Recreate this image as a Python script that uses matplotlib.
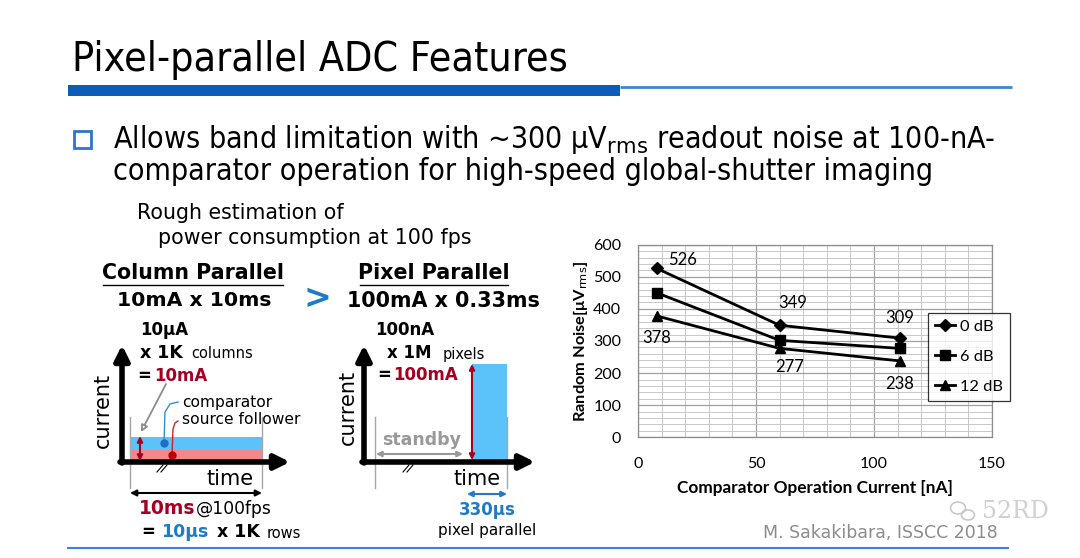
import matplotlib
matplotlib.use("Agg")
import matplotlib.pyplot as plt
from matplotlib.patches import Rectangle, Ellipse
from matplotlib.ticker import MultipleLocator

# chart data
current_na = [8, 60, 111]
noise_0db = [526, 349, 309]
noise_6db = [450, 302, 277]
noise_12db = [378, 277, 238]
series_labels = ['0 dB', '6 dB', '12 dB']
series_markers = ['D', 's', '^']

DARKRED = '#A50021'
BLUE = '#1F7BC8'
LBLUE = '#5CC3FA'
PINK = '#F4878A'
GRAY = '#A6A6A6'

fig = plt.figure(figsize=(10.8, 5.58), dpi=100)

# overlay in pixel coords for the slide decoration
ov = fig.add_axes([0, 0, 1, 1], zorder=0)
ov.set_xlim(0, 1080)
ov.set_ylim(558, 0)
ov.axis('off')

ov.text(72, 60, 'Pixel-parallel ADC Features', fontsize=29.4, va='center', ha='left',
        family='DejaVu Sans', fontstretch='condensed')
ov.add_patch(Rectangle((68, 85), 552, 11, color='#0B5DB8', lw=0))
ov.plot([620, 1012], [86.5, 86.5], color='#3A86D0', lw=2, solid_capstyle='butt')

ov.add_patch(Rectangle((74, 131), 17, 17, fill=False, ec='#2E75C8', lw=2))
ov.text(113, 140, 'Allows band limitation with ~300 µV$_{\\rm rms}$ readout noise at 100-nA-',
        fontsize=21.7, va='center', ha='left', fontstretch='condensed')
ov.text(113, 172, 'comparator operation for high-speed global-shutter imaging',
        fontsize=21.7, va='center', ha='left', fontstretch='condensed')

ov.text(137, 213, 'Rough estimation of', fontsize=14.8, va='center')
ov.text(158, 238, 'power consumption at 100 fps', fontsize=14.8, va='center')

# column parallel side
ov.text(193, 273, 'Column Parallel', fontsize=14.8, weight='bold', ha='center', va='center')
ov.plot([103, 283], [285, 285], color='k', lw=1)
ov.text(194, 301, '10mA x 10ms', fontsize=14.7, weight='bold', ha='center', va='center')
ov.text(317, 299, '>', fontsize=24, weight='bold', color=BLUE, ha='center', va='center')

ov.text(140, 330, '10μA', fontsize=12, weight='bold', va='center')
ov.text(140, 353, 'x 1K', fontsize=12.5, weight='bold', va='center')
ov.text(191, 354, 'columns', fontsize=10.5, va='center')
ov.text(137, 376, '=', fontsize=12, weight='bold', va='center')
ov.text(154, 376, '10mA', fontsize=12, weight='bold', color=DARKRED, va='center')

ov.add_patch(Rectangle((130, 437), 132, 13, color=LBLUE, lw=0))
ov.add_patch(Rectangle((130, 450), 132, 11, color=PINK, lw=0))
for x in (130, 262):
    ov.plot([x, x], [417, 488], color=GRAY, lw=1)
ov.annotate('', xy=(122, 345), xytext=(122, 463),
            arrowprops=dict(arrowstyle='-|>', lw=4, color='k', mutation_scale=22, shrinkA=0, shrinkB=0))
ov.annotate('', xy=(290, 462), xytext=(120, 462),
            arrowprops=dict(arrowstyle='-|>', lw=4, color='k', mutation_scale=22, shrinkA=0, shrinkB=0))
ov.annotate('', xy=(140, 436), xytext=(140, 461),
            arrowprops=dict(arrowstyle='<|-|>', lw=1.5, color=DARKRED, mutation_scale=8, shrinkA=0, shrinkB=0))
ov.annotate('', xy=(141, 432), xytext=(166, 384),
            arrowprops=dict(arrowstyle='-|>', lw=1.3, color='#8C8C8C', mutation_scale=10,
                            fc='white', shrinkA=0, shrinkB=0))
ov.plot([155, 165], [472, 464], color='white', lw=5)
ov.plot([157, 163], [472, 465], color='k', lw=0.8)
ov.plot([161, 167], [472, 465], color='k', lw=0.8)
ov.plot([164, 165, 170, 178], [443, 412, 404, 402], color='#2F8FD8', lw=1)
ov.plot(164, 443, 'o', color='#1F6FC0', ms=5)
ov.plot([172, 173, 175, 178], [455, 429, 423, 421], color='#D02020', lw=1)
ov.plot(172, 455, 'o', color='#C00000', ms=5)
ov.text(182, 402, 'comparator', fontsize=11.2, va='center')
ov.text(182, 420, 'source follower', fontsize=11.2, va='center')
ov.text(103, 410, 'current', fontsize=15, rotation=90, ha='center', va='center')
ov.text(230, 479, 'time', fontsize=15, ha='center', va='center')
ov.annotate('', xy=(130, 493), xytext=(262, 493),
            arrowprops=dict(arrowstyle='<|-|>', lw=1.5, color='k', mutation_scale=9, shrinkA=0, shrinkB=0))
ov.text(139, 509, '10ms', fontsize=13.5, weight='bold', color=DARKRED, va='center')
ov.text(196, 509, '@100fps', fontsize=12.3, va='center')
ov.text(141, 532, '=', fontsize=12, weight='bold', va='center')
ov.text(161, 532, '10μs', fontsize=12.5, weight='bold', color=BLUE, va='center')
ov.text(217, 532, 'x 1K', fontsize=12.5, weight='bold', va='center')
ov.text(267, 533, 'rows', fontsize=10.5, va='center')

# pixel parallel side
ov.text(434, 273, 'Pixel Parallel', fontsize=14.8, weight='bold', ha='center', va='center')
ov.plot([360, 508], [285, 285], color='k', lw=1)
ov.text(443, 301, '100mA x 0.33ms', fontsize=14.9, weight='bold', ha='center', va='center')
ov.text(375, 330, '100nA', fontsize=12, weight='bold', va='center')
ov.text(387, 353, 'x 1M', fontsize=12, weight='bold', va='center')
ov.text(443, 354, 'pixels', fontsize=10.5, va='center')
ov.text(377, 375, '=', fontsize=12, weight='bold', va='center')
ov.text(393, 375, '100mA', fontsize=12, weight='bold', color=DARKRED, va='center')

ov.add_patch(Rectangle((472, 364), 35, 97, color=LBLUE, lw=0))
for x in (375, 507):
    ov.plot([x, x], [417, 488], color=GRAY, lw=1)
ov.annotate('', xy=(364, 345), xytext=(364, 463),
            arrowprops=dict(arrowstyle='-|>', lw=4, color='k', mutation_scale=22, shrinkA=0, shrinkB=0))
ov.annotate('', xy=(535, 462), xytext=(362, 462),
            arrowprops=dict(arrowstyle='-|>', lw=4, color='k', mutation_scale=22, shrinkA=0, shrinkB=0))
ov.annotate('', xy=(472, 364), xytext=(472, 460),
            arrowprops=dict(arrowstyle='<|-|>', lw=1.5, color=DARKRED, mutation_scale=8, shrinkA=0, shrinkB=0))
ov.annotate('', xy=(376, 454), xytext=(463, 454),
            arrowprops=dict(arrowstyle='<|-|>', lw=1.5, color='#999999', mutation_scale=8, shrinkA=0, shrinkB=0))
ov.text(422, 440, 'standby', fontsize=12.5, weight='bold', color='#999999', ha='center', va='center')
ov.plot([401, 411], [472, 464], color='white', lw=5)
ov.plot([403, 409], [472, 465], color='k', lw=0.8)
ov.plot([407, 413], [472, 465], color='k', lw=0.8)
ov.text(348, 407, 'current', fontsize=15, rotation=90, ha='center', va='center')
ov.text(477, 479, 'time', fontsize=15, ha='center', va='center')
ov.annotate('', xy=(467, 494), xytext=(507, 494),
            arrowprops=dict(arrowstyle='<|-|>', lw=1.5, color=BLUE, mutation_scale=8, shrinkA=0, shrinkB=0))
ov.text(487, 510, '330μs', fontsize=12, weight='bold', color=BLUE, ha='center', va='center')
ov.text(487, 530, 'pixel parallel', fontsize=11, ha='center', va='center')

# footer
ov.plot([68, 1008], [548, 548], color='#3A86D0', lw=1.5)
ov.text(998, 533, 'M. Sakakibara, ISSCC 2018', fontsize=12.5, color='#8C8C8C', ha='right', va='center')
ov.add_patch(Ellipse((958, 508), 15, 12, fill=False, ec='#C8C8C8', lw=1.2))
ov.add_patch(Ellipse((968, 515), 13, 10, fill=False, ec='#C8C8C8', lw=1.2))
ov.text(1015, 512, '52RD', fontsize=17, color='#D0D0D0', ha='center', va='center', family='DejaVu Serif')

# noise chart
ax = fig.add_axes([0.5907, 0.2163, 0.3278, 0.3452], zorder=1)
for vals, lab, mk in zip([noise_0db, noise_6db, noise_12db], series_labels, series_markers):
    ax.plot(current_na, vals, color='k', lw=2, marker=mk, ms=7 if mk != 'D' else 6, label=lab)

ax.set_xlim(0, 150)
ax.set_ylim(0, 600)
ax.xaxis.set_major_locator(MultipleLocator(50))
ax.xaxis.set_minor_locator(MultipleLocator(10))
ax.yaxis.set_major_locator(MultipleLocator(100))
ax.yaxis.set_minor_locator(MultipleLocator(20))
ax.grid(which='major', color='#A0A0A0', lw=0.9)
ax.grid(which='minor', color='#C8C8C8', lw=0.7)
ax.set_axisbelow(True)
ax.tick_params(which='both', length=0)
ax.tick_params(axis='x', labelsize=11.5, pad=14)
ax.tick_params(axis='y', labelsize=11.5, pad=12)
for lbl in ax.get_xticklabels() + ax.get_yticklabels():
    lbl.set_family('Lato')
for s in ax.spines.values():
    s.set_color('#8C8C8C')
    s.set_linewidth(0.9)

ax.set_xlabel('Comparator Operation Current [nA]', fontsize=12.4, weight='bold', family='Lato', labelpad=7)
ax.set_ylabel('Random Noise[μV$_{\\rm rms}$]', fontsize=11.8, weight='bold', family='Lato', labelpad=2)

label_offsets = {
    (0, 0): (26, 8), (0, 1): (13, 22), (0, 2): (0, 20),
    (2, 0): (0, -22), (2, 1): (10, -19), (2, 2): (0, -23),
}
all_series = [noise_0db, noise_6db, noise_12db]
for (si, pi), (dx, dy) in label_offsets.items():
    ax.annotate(str(all_series[si][pi]), (current_na[pi], all_series[si][pi]),
                xytext=(dx, dy), textcoords='offset pixels', ha='center', va='center',
                fontsize=12, family='Lato')

leg = ax.legend(loc='upper left', bbox_to_anchor=(928 / 1080, 1 - 313 / 558),
                bbox_transform=fig.transFigure, borderaxespad=0, frameon=True, fancybox=False,
                edgecolor='k', handlelength=1.25, handletextpad=0.3,
                labelspacing=0.95, borderpad=0.4, prop={'family': 'Lato', 'size': 11.8})
leg.get_frame().set_linewidth(0.9)

fig.savefig('out.png', dpi=100, facecolor='white')
